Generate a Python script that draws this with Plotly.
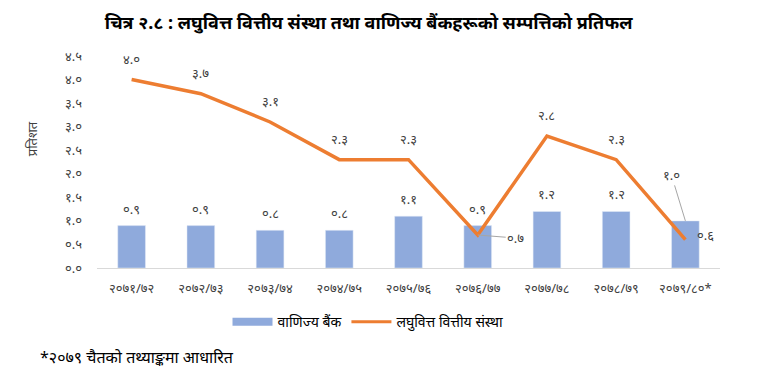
import plotly.graph_objects as go

categories = ["२०७१/७२", "२०७२/७३", "२०७३/७४", "२०७४/७५", "२०७५/७६",
              "२०७६/७७", "२०७७/७८", "२०७८/७९", "२०७९/८०*"]
bank_values = [0.9, 0.9, 0.8, 0.8, 1.1, 0.9, 1.2, 1.2, 1.0]
mfi_values = [4.0, 3.7, 3.1, 2.3, 2.3, 0.7, 2.8, 2.3, 0.6]
y_ticks = [0.0, 0.5, 1.0, 1.5, 2.0, 2.5, 3.0, 3.5, 4.0, 4.5]

DIG = str.maketrans("0123456789", "०१२३४५६७८९")
def dev(v):
    return f"{v:.1f}".translate(DIG)

FONT = "Noto Sans, Noto Sans Devanagari, sans-serif"
BLUE = "#8FAADC"
ORANGE = "#ED7D31"
LBL = dict(size=13, color="#404040", family=FONT)

fig = go.Figure()
fig.add_trace(go.Bar(x=categories, y=bank_values, name="वाणिज्य बैंक",
                     marker=dict(color=BLUE), width=0.4, showlegend=False))
fig.add_trace(go.Scatter(x=categories, y=mfi_values, name="लघुवित्त वित्तीय संस्था",
                         mode="lines", line=dict(color=ORANGE, width=3.5), showlegend=False))
# legend entries (swatches only)
fig.add_trace(go.Scatter(x=[None], y=[None], mode="lines", name="वाणिज्य बैंक",
                         line=dict(color=BLUE, width=8)))
fig.add_trace(go.Scatter(x=[None], y=[None], mode="lines", name="लघुवित्त वित्तीय संस्था",
                         line=dict(color=ORANGE, width=3)))

ann = []
for i, (c, v) in enumerate(zip(categories, bank_values)):
    if i == len(categories) - 1:
        ann.append(dict(x=c, y=v, text=dev(v), showarrow=True, arrowhead=0,
                        arrowcolor="#A6A6A6", arrowwidth=1, ax=-14, ay=-46, font=LBL))
    else:
        ann.append(dict(x=c, y=v, text=dev(v), showarrow=False, yshift=17, font=LBL))
for i, (c, v) in enumerate(zip(categories, mfi_values)):
    if i == 5:
        ann.append(dict(x=c, y=v, text=dev(v), showarrow=True, arrowhead=0,
                        arrowcolor="#A6A6A6", arrowwidth=1, ax=38, ay=3, font=LBL))
    elif i == len(categories) - 1:
        ann.append(dict(x=c, y=v, text=dev(v), showarrow=False, xshift=20, yshift=5, font=LBL))
    else:
        ann.append(dict(x=c, y=v, text=dev(v), showarrow=False, yshift=21, font=LBL))

ann.append(dict(text="प्रतिशत", xref="paper", yref="paper", x=-0.105, y=0.61,
                xanchor="center", yanchor="middle", textangle=-90, showarrow=False,
                font=dict(size=13, color="#404040", family=FONT)))
ann.append(dict(text="*२०७९ चैतको तथ्याङ्कमा आधारित", xref="paper", yref="paper",
                x=-0.094, y=-0.42, xanchor="left", yanchor="middle", showarrow=False,
                font=dict(size=16, color="#000000", family=FONT)))

fig.update_layout(
    width=768, height=375,
    margin=dict(l=97, r=48, t=56, b=107),
    paper_bgcolor="white", plot_bgcolor="white",
    title=dict(text="<b>चित्र २.८ : लघुवित्त वित्तीय संस्था तथा वाणिज्य बैंकहरूको सम्पत्तिको प्रतिफल</b>",
               x=0.48, xanchor="center", y=0.94, yanchor="middle",
               font=dict(size=18, color="#000000", family=FONT)),
    showlegend=True,
    legend=dict(orientation="h", x=0.435, xanchor="center", y=-0.255, yanchor="middle",
                font=dict(size=14, color="#000000", family=FONT), traceorder="normal",
                itemwidth=40),
    xaxis=dict(showgrid=False, showline=True, linecolor="#D9D9D9", linewidth=1,
               ticks="", ticklabelstandoff=8,
               tickfont=dict(size=13, color="#404040", family=FONT)),
    yaxis=dict(range=[0, 4.5], tickvals=y_ticks, ticktext=[dev(v) for v in y_ticks],
               showgrid=False, zeroline=False, showline=False, ticks="",
               ticklabelstandoff=14,
               tickfont=dict(size=13, color="#404040", family=FONT)),
    annotations=ann,
)

fig.write_html("out.html", config={"displayModeBar": False},
               post_script="document.body.style.margin='0';document.body.style.padding='0';")
